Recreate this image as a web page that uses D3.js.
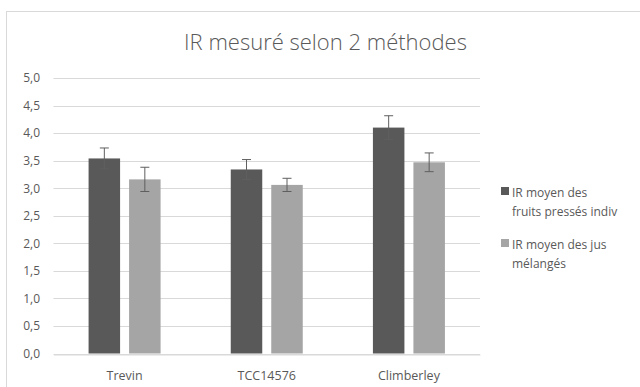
<!DOCTYPE html>
<html><head><meta charset="utf-8">
<script src="https://cdn.jsdelivr.net/npm/d3@7"></script>
<style>
html,body{margin:0;padding:0;background:#fff;}
svg{display:block;font-family:"Open Sans",sans-serif;}
</style></head>
<body><svg id="c" width="640" height="387"></svg>
<script>
const categories = ["Trevin", "TCC14576", "Climberley"];
const seriesNames = ["IR moyen des fruits pressés indiv", "IR moyen des jus mélangés"];
const seriesIndiv = [3.54, 3.34, 4.10];
const seriesMix = [3.16, 3.06, 3.47];
const errIndiv = [0.19, 0.18, 0.215];
const errMix = [0.22, 0.12, 0.17];
const yTicks = [0, 0.5, 1, 1.5, 2, 2.5, 3, 3.5, 4, 4.5, 5];
const colors = ["#595959", "#a5a5a5"];
const title = "IR mesuré selon 2 méthodes";

(function(){
const svg = d3.select("#c");
const mLeft = 53.5, mRight = 480, mTop = 78, mBottom = 353.5;

svg.append("rect").attr("x", 6.5).attr("y", 11.5).attr("width", 700).attr("height", 500)
  .attr("fill", "none").attr("stroke", "#d9d9d9").attr("stroke-width", 1);

svg.append("text").attr("x", 325.5).attr("y", 50).attr("text-anchor", "middle")
  .attr("font-size", 22).attr("font-weight", 300).attr("fill", "#595959").text(title);

const y = d3.scaleLinear().domain([0, 5]).range([mBottom, mTop]);
const x = d3.scaleBand().domain(categories).range([mLeft, mRight]).paddingInner(0).paddingOuter(0);
const bw = 31.5, gap = 9;
const sub = d3.scaleBand().domain([0, 1]).range([-(bw + gap / 2), bw + gap / 2]).paddingInner(gap / (bw + gap)).paddingOuter(0);

const grid = svg.append("g");
yTicks.forEach(t => {
  grid.append("line").attr("x1", mLeft).attr("x2", mRight)
    .attr("y1", Math.round(y(t)) + 0.5).attr("y2", Math.round(y(t)) + 0.5)
    .attr("stroke", "#d9d9d9").attr("stroke-width", 1);
});

const yAxis = d3.axisLeft(y).tickValues(yTicks).tickSize(0).tickPadding(0)
  .tickFormat(d => d3.format(".1f")(d).replace(".", ","));
const ga = svg.append("g").attr("transform", `translate(40,0)`).call(yAxis);
ga.select(".domain").remove();
ga.selectAll("text").attr("font-size", 12).attr("fill", "#595959").attr("font-family", "Open Sans, sans-serif");

const series = [seriesIndiv, seriesMix];
const errs = [errIndiv, errMix];
series.forEach((vals, si) => {
  const g = svg.append("g");
  categories.forEach((c, ci) => {
    const cx = x(c) + x.bandwidth() / 2;
    const bx = cx + sub(si);
    g.append("rect").attr("x", bx).attr("y", y(vals[ci])).attr("width", sub.bandwidth())
      .attr("height", y(0) - y(vals[ci])).attr("fill", colors[si]);
    const mx = bx + sub.bandwidth() / 2;
    const e = errs[si][ci];
    const ey1 = y(vals[ci] + e), ey2 = y(vals[ci] - e);
    g.append("line").attr("x1", mx).attr("x2", mx).attr("y1", ey1).attr("y2", ey2)
      .attr("stroke", "#5f5f5f").attr("stroke-width", 1);
    [ey1, ey2].forEach(yy => g.append("line").attr("x1", mx - 4.5).attr("x2", mx + 4.5)
      .attr("y1", yy).attr("y2", yy).attr("stroke", "#5f5f5f").attr("stroke-width", 1));
  });
});

const xAxis = d3.axisBottom(x).tickSize(0).tickPadding(0);
const gx = svg.append("g").attr("transform", `translate(0,${Math.round(mBottom)+0.5})`).call(xAxis);
gx.select(".domain").attr("stroke", "#d9d9d9");
gx.selectAll("text").attr("font-size", 12.5).attr("fill", "#595959").attr("dy", 0).attr("y", 25)
  .attr("font-family", "Open Sans, sans-serif");

const legendLines = [["IR moyen des", "fruits pressés indiv"], ["IR moyen des jus", "mélangés"]];
const ly = [187, 239];
legendLines.forEach((lines, i) => {
  const lg = svg.append("g");
  lg.append("rect").attr("x", 501).attr("y", ly[i]).attr("width", 8).attr("height", 8).attr("fill", colors[i]);
  lines.forEach((t, j) => lg.append("text").attr("x", 512).attr("y", ly[i] + 9.5 + j * 19.5)
    .attr("font-size", 12).attr("fill", "#595959").text(t));
});
})();
</script></body></html>
